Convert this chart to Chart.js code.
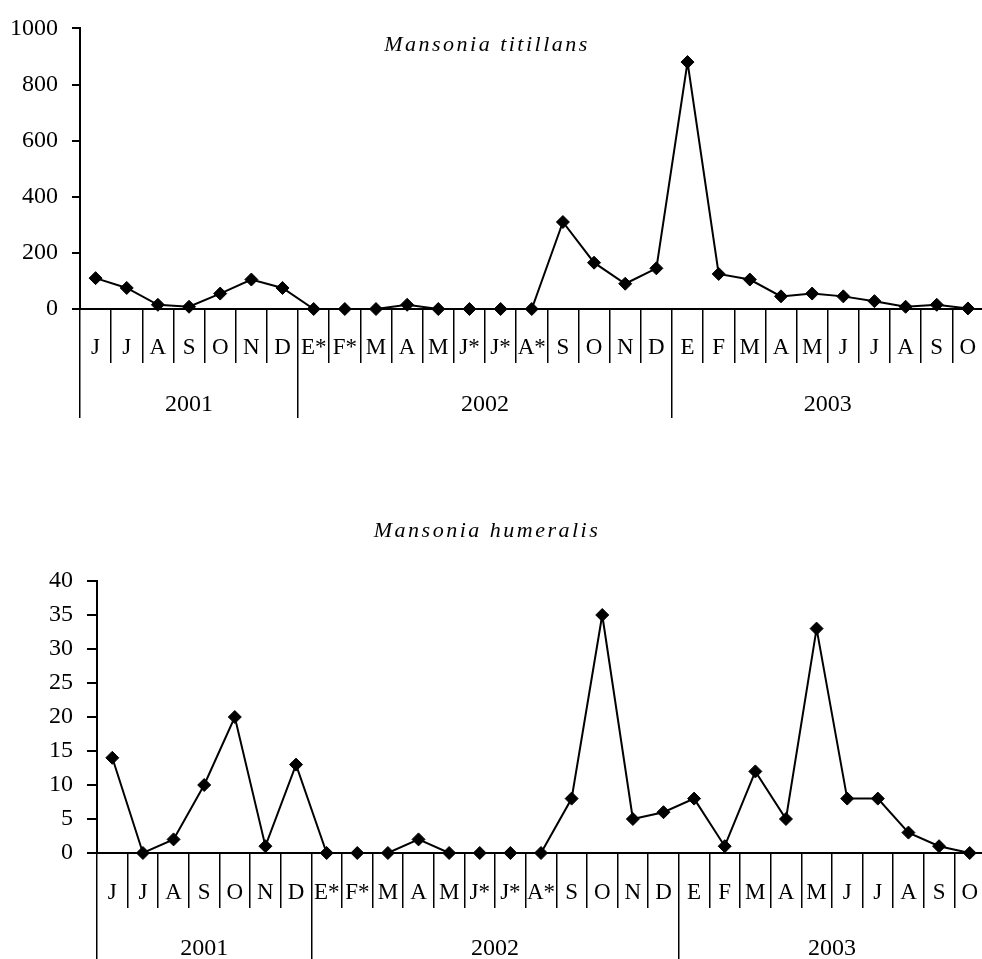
<!DOCTYPE html>
<html>
<head>
<meta charset="utf-8">
<script src="https://cdn.jsdelivr.net/npm/chart.js@4.4.1/dist/chart.umd.min.js"></script>
<style>
  html, body { margin: 0; padding: 0; background: #fff; overflow: hidden; width: 982px; height: 959px; }
  canvas { position: absolute; left: 0; }
</style>
</head>
<body>
<canvas id="graf1" width="1000" height="423" style="top:0px"></canvas>
<canvas id="graf2" width="1000" height="508" style="top:480px"></canvas>
<script>
// Datos
var meses = ['J','J','A','S','O','N','D','E*','F*','M','A','M','J*','J*','A*','S','O','N','D','E','F','M','A','M','J','J','A','S','O'];
var anios = ['2001','2002','2003'];
var mesesPorAnio = [7, 12, 10];

var titillans = [110, 75, 15, 8, 55, 105, 75, 0, 0, 0, 15, 0, 0, 0, 0, 310, 165, 90, 145, 880, 125, 105, 45, 55, 45, 28, 8, 15, 2];
var humeralis = [14, 0, 2, 10, 20, 1, 13, 0, 0, 0, 2, 0, 0, 0, 0, 8, 35, 5, 6, 8, 1, 12, 5, 33, 8, 8, 3, 1, 0];

var maxTitillans = 1000, pasoTitillans = 200;
var maxHumeralis = 40, pasoHumeralis = 5;

// limites y centros de cada anio (en indices de categoria)
var limites = [-0.5];
var centros = [];
var acum = -0.5;
mesesPorAnio.forEach(function (n) {
    centros.push(acum + n / 2);
    acum += n;
    limites.push(acum);
});

var fuente = '"Liberation Serif", "Times New Roman", serif';

// titulo en cursiva con algo de espaciado, como el original
var tituloPlugin = {
    id: 'titulo',
    afterDraw: function (chart, args, opts) {
        var ctx = chart.ctx;
        ctx.save();
        ctx.font = 'italic 22px ' + fuente;
        ctx.letterSpacing = '2.5px';
        ctx.textAlign = 'center';
        ctx.textBaseline = 'alphabetic';
        ctx.fillStyle = '#000';
        ctx.fillText(opts.text, opts.x, opts.y);
        ctx.restore();
    }
};

function crearGrafico(id, datos, maximo, paso, cfg) {
    var ctx = document.getElementById(id).getContext('2d');
    return new Chart(ctx, {
        type: 'line',
        data: {
            labels: meses,
            datasets: [{
                data: datos,
                borderColor: '#000',
                borderWidth: 2,
                backgroundColor: '#000',
                pointStyle: 'rectRot',
                pointRadius: 6.5,
                pointBorderWidth: 1,
                pointBorderColor: '#000',
                pointBackgroundColor: '#000',
                tension: 0,
                clip: false
            }]
        },
        plugins: [tituloPlugin],
        options: {
            responsive: false,
            animation: false,
            events: [],
            layout: { padding: { top: cfg.arriba, left: 0, right: cfg.derecha, bottom: 0 } },
            plugins: {
                legend: { display: false },
                tooltip: { enabled: false },
                titulo: { text: cfg.titulo, x: 487, y: cfg.tituloY }
            },
            scales: {
                x: {
                    type: 'category',
                    position: 'bottom',
                    weight: 0,
                    offset: true,
                    grid: { offset: true, drawOnChartArea: false, drawTicks: true, tickLength: cfg.sep, color: '#000', lineWidth: 1.5 },
                    border: { display: true, color: '#000', width: 2 },
                    ticks: { autoSkip: false, maxRotation: 0, minRotation: 0, padding: -29, color: '#000', font: { family: fuente, size: 23 } },
                    afterFit: function (s) { s.height = cfg.sep; }
                },
                x2: {
                    type: 'linear',
                    position: 'bottom',
                    weight: 1,
                    min: -0.5,
                    max: meses.length - 0.5,
                    afterBuildTicks: function (s) {
                        s.ticks = limites.concat(centros).sort(function (a, b) { return a - b; }).map(function (v) { return { value: v }; });
                    },
                    grid: {
                        drawOnChartArea: false, drawTicks: true, tickLength: cfg.largo, lineWidth: 1.5,
                        color: function (c) { return c.tick && limites.indexOf(c.tick.value) >= 0 ? '#000' : 'rgba(0,0,0,0)'; }
                    },
                    border: { display: false },
                    ticks: {
                        autoSkip: false, maxRotation: 0, minRotation: 0, padding: cfg.padAnio, color: '#000',
                        font: { family: fuente, size: 24 },
                        callback: function (v) { var i = centros.indexOf(v); return i >= 0 ? anios[i] : ''; }
                    },
                    afterFit: function (s) { s.height = cfg.altoAnio; }
                },
                y: {
                    min: 0,
                    max: maximo,
                    grid: { drawOnChartArea: false, drawTicks: true, tickLength: cfg.marca, color: '#000', lineWidth: 2 },
                    border: { display: true, color: '#000', width: 2 },
                    ticks: {
                        stepSize: paso, padding: 14, color: '#000', font: { family: fuente, size: 24 },
                        callback: function (v) { return String(v); }  // sin separador de miles
                    },
                    afterFit: function (s) { s.width = cfg.ancho; }
                }
            }
        }
    });
}

crearGrafico('graf1', titillans, maxTitillans, pasoTitillans, {
    titulo: 'Mansonia titillans', tituloY: 51,
    arriba: 17, derecha: 16.5, ancho: 80, marca: 8,
    sep: 54, largo: 55, padAnio: -28, altoAnio: 60
});
crearGrafico('graf2', humeralis, maxHumeralis, pasoHumeralis, {
    titulo: 'Mansonia humeralis', tituloY: 57,
    arriba: 101, derecha: 15, ancho: 97, marca: 10,
    sep: 55, largo: 80, padAnio: -54, altoAnio: 80
});
</script>
</body>
</html>
